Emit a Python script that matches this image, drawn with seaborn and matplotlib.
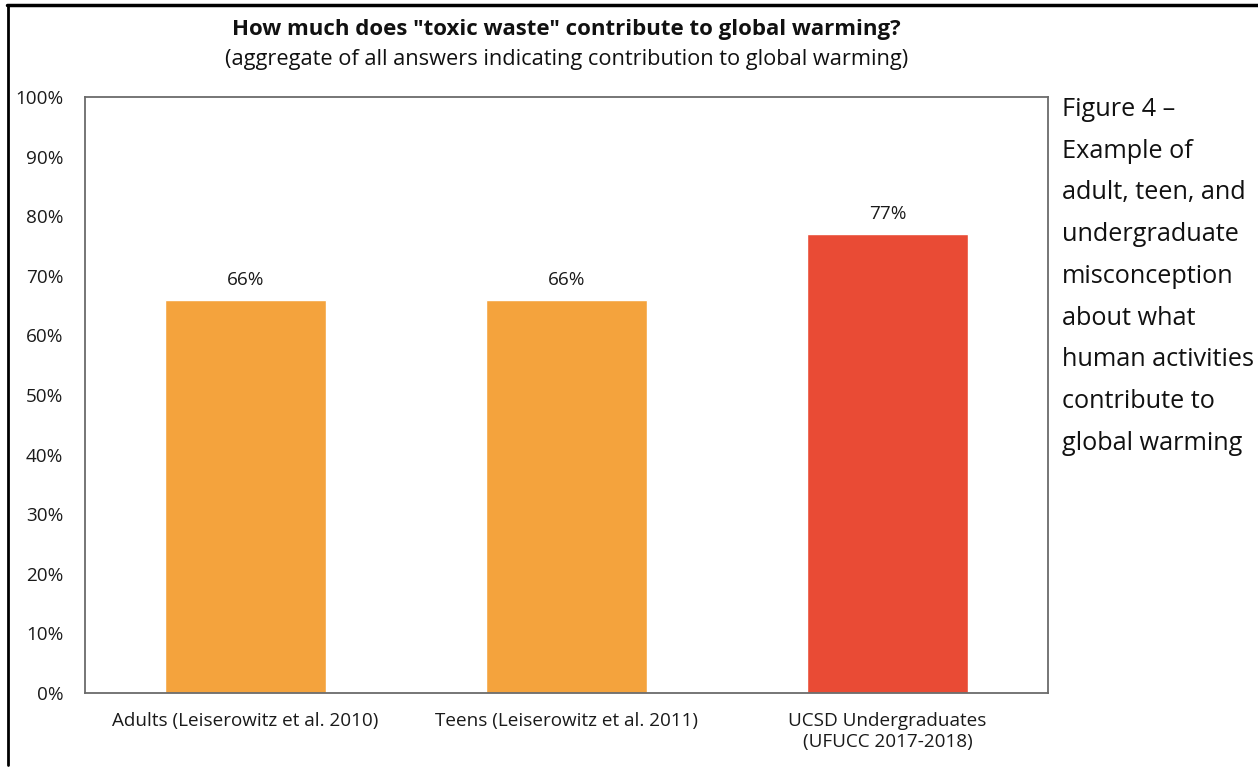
import matplotlib
matplotlib.use("Agg")
import matplotlib.pyplot as plt
import seaborn as sns
import pandas as pd
from matplotlib.lines import Line2D

categories = ["Adults (Leiserowitz et al. 2010)",
              "Teens (Leiserowitz et al. 2011)",
              "UCSD Undergraduates\n(UFUCC 2017-2018)"]
values = [66, 66, 77]
bar_colors = ["#F4A33D", "#F4A33D", "#E94B35"]
yticks = list(range(0, 101, 10))
title = 'How much does "toxic waste" contribute to global warming?'
subtitle = "(aggregate of all answers indicating contribution to global warming)"
caption = "Figure 4 –\nExample of\nadult, teen, and\nundergraduate\nmisconception\nabout what\nhuman activities\ncontribute to\nglobal warming"

sns.set_theme(style="white")
plt.rcParams['font.family'] = ['Open Sans', 'DejaVu Sans']

df = pd.DataFrame({"cat": categories, "val": values})

fig = plt.figure(figsize=(12.58, 7.69), dpi=100)
ax = fig.add_axes([85/1258, 1-693/769, (1048-85)/1258, (693-97)/769])

sns.barplot(data=df, x="cat", y="val", hue="cat", palette=bar_colors,
            width=0.5, legend=False, ax=ax, saturation=1)

ax.set_ylim(0, 100)
ax.set_xlim(-0.5, 2.5)
ax.set_yticks(yticks)
ax.set_yticklabels([f"{t}%" for t in yticks], fontsize=13.6, color="#1a1a1a")
ax.tick_params(axis="x", labelsize=13.6, colors="#1a1a1a", pad=13.5, length=0)
ax.tick_params(axis="y", pad=15.5, length=0)
ax.set_xlabel("")
ax.set_ylabel("")
for s in ax.spines.values():
    s.set_visible(True)
    s.set_color("#6b6b6b")
    s.set_linewidth(1.3)

for i, v in enumerate(values):
    ax.text(i, v + 1.8, f"{v}%", ha="center", va="bottom", fontsize=13.6, color="#1a1a1a")

fig.text(566.5/1258, 1-30/769, title, ha="center", va="center",
         fontsize=16, fontweight="bold", color="#111111")
fig.text(566.5/1258, 1-59/769, subtitle, ha="center", va="center",
         fontsize=15.7, color="#111111")
fig.text(1062/1258, 1-97/769, caption, ha="left", va="top",
         fontsize=18.2, color="#111111", linespacing=1.88)

# outer border lines (top and left)
fig.add_artist(Line2D([7/1258, 1], [1-5/769, 1-5/769], transform=fig.transFigure,
                      color="black", linewidth=2.5))
fig.add_artist(Line2D([8/1258, 8/1258], [1-5/769, 1-765/769], transform=fig.transFigure,
                      color="black", linewidth=2.0))

fig.savefig("out.png", dpi=100)
